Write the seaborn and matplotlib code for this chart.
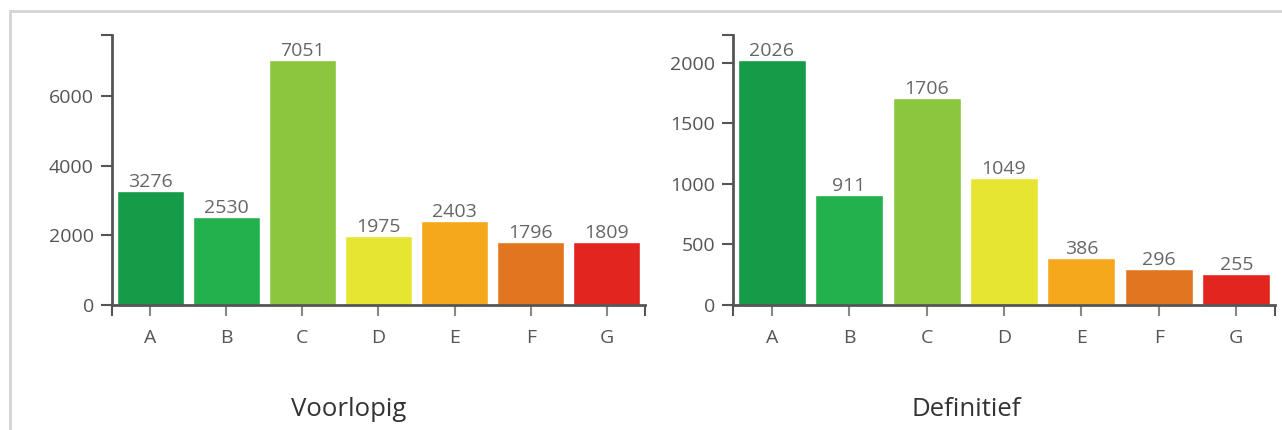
import matplotlib
matplotlib.use("Agg")
import matplotlib.pyplot as plt
import seaborn as sns
import pandas as pd
from matplotlib.patches import Rectangle

# Data
labels = ["A", "B", "C", "D", "E", "F", "G"]
voorlopig = [3276, 2530, 7051, 1975, 2403, 1796, 1809]
definitief = [2026, 911, 1706, 1049, 386, 296, 255]
colors = ["#169b48", "#22b14c", "#8cc63e", "#e6e532", "#f6a81c", "#e2751f", "#e3251f"]
titles = ["Voorlopig", "Definitief"]
yticks_left = [0, 2000, 4000, 6000]
yticks_right = [0, 500, 1000, 1500, 2000]

sns.set_style("white")
plt.rcParams["font.family"] = ["Open Sans", "DejaVu Sans"]

fig = plt.figure(figsize=(12.82, 4.30), dpi=100)
ax1 = fig.add_axes([112 / 1282, 1 - 305 / 430, 533 / 1282, 270 / 430])
ax2 = fig.add_axes([733 / 1282, 1 - 305 / 430, 542 / 1282, 270 / 430])

# light frame round the widget (only top and left edges are in view)
fig.patches.append(Rectangle((10 / 1282, -0.1), 1.5, (1 - 11 / 430) + 0.1,
                             transform=fig.transFigure, fill=False,
                             edgecolor="#d4d4d4", linewidth=2))

grey = "#555555"
for ax, vals, title, yt, tx in zip([ax1, ax2], [voorlopig, definitief], titles,
                                    [yticks_left, yticks_right], [0.445, 0.43]):
    df = pd.DataFrame({"label": labels, "value": vals})
    sns.barplot(data=df, x="label", y="value", hue="label", palette=colors,
                legend=False, width=0.88, saturation=1, ax=ax)
    top = max(vals) * 1.1
    ax.set_ylim(0, top)
    ax.set_xlim(-0.5, len(labels) - 0.5)
    for c in ax.containers:
        ax.bar_label(c, fontsize=14, color="#666666", padding=0)

    # axis lines with outer ticks
    sns.despine(ax=ax)
    for s in ["left", "bottom"]:
        ax.spines[s].set_color(grey)
        ax.spines[s].set_linewidth(2)
    ax.set_yticks(yt + [top])
    ax.set_yticklabels([str(v) for v in yt] + [""])
    ax.set_xticks(range(len(labels)))
    ax.set_xticklabels(labels)
    ax.set_xticks([-0.5, len(labels) - 0.5], minor=True)
    ax.tick_params(axis="both", which="both", bottom=True, left=True,
                   length=8, width=1.5, color=grey,
                   labelsize=14, labelcolor=grey, pad=5)
    ax.tick_params(axis="x", which="major", color="#888888", pad=9)
    ax.set_ylabel("")
    ax.set_xlabel(title, fontsize=18.5, color="#333333", labelpad=36, x=tx)

fig.savefig("out.png", dpi=100, facecolor="white")
